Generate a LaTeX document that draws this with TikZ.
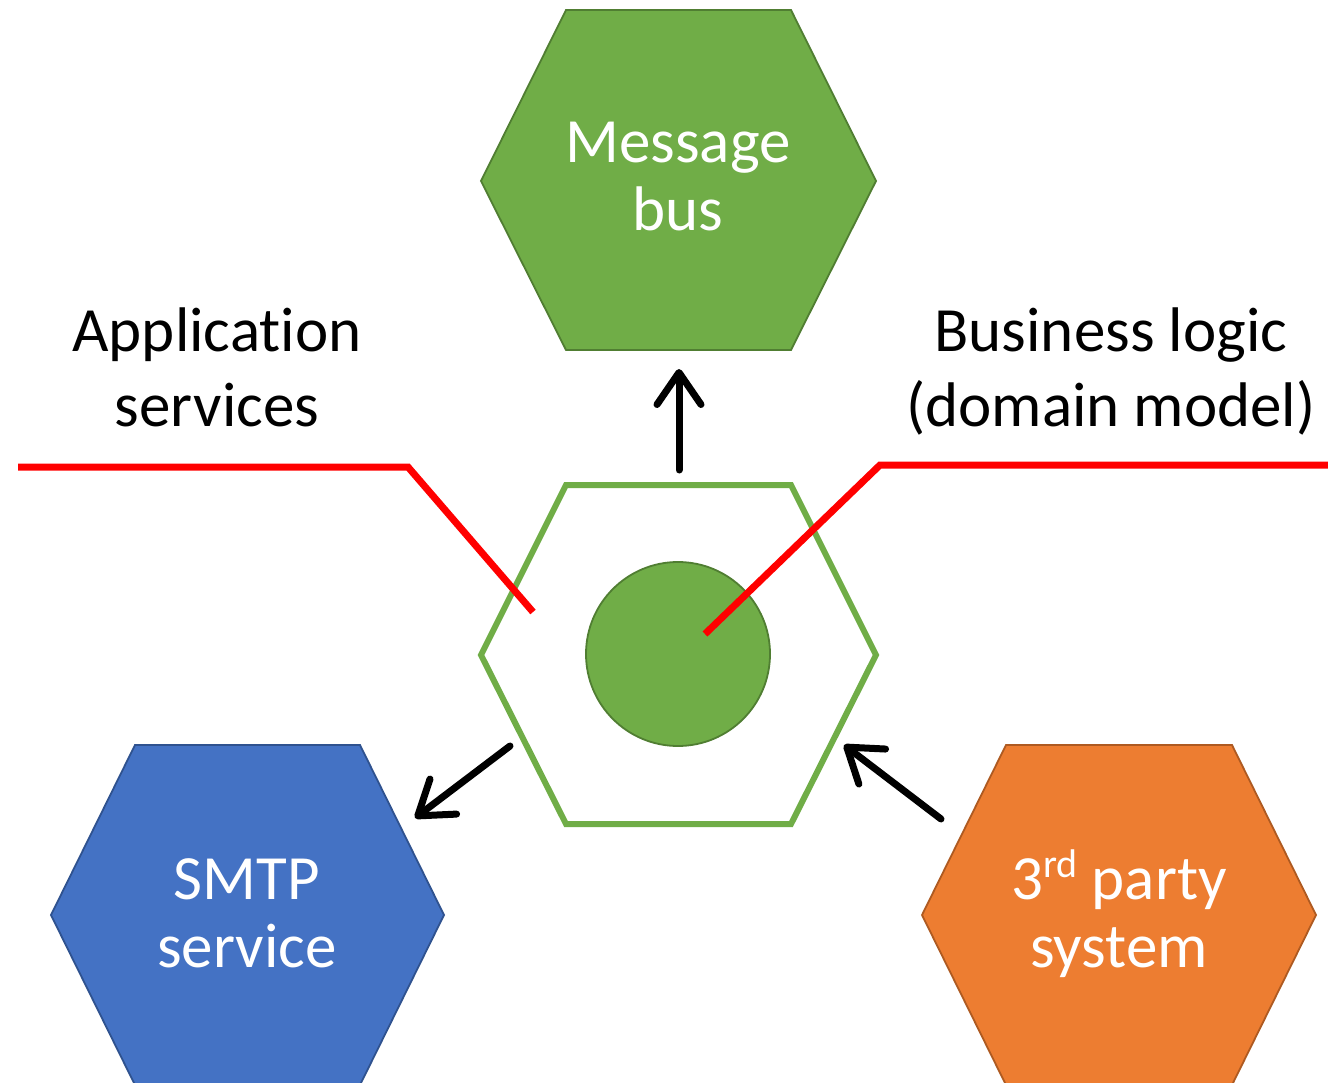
\documentclass[tikz,border=0pt]{standalone}
\usepackage{fontspec}
\setmainfont{Carlito}[Ligatures=NoCommon]
\usetikzlibrary{arrows.meta}
\definecolor{gfill}{HTML}{70AD47}
\definecolor{gline}{HTML}{507E32}
\definecolor{bfill}{HTML}{4472C4}
\definecolor{bline}{HTML}{2F528F}
\definecolor{ofill}{HTML}{ED7D31}
\definecolor{oline}{HTML}{AE5A21}
\definecolor{redl}{HTML}{FF0000}
\tikzset{
  hexgreen/.style={fill=gfill,draw=gline,line width=1.8pt},
  hexblue/.style={fill=bfill,draw=bline,line width=1.8pt},
  hexorange/.style={fill=ofill,draw=oline,line width=1.8pt},
  hexcore/.style={draw=gfill,line width=6pt,fill=white},
  intext/.style={text=white,align=center,font=\fontsize{63}{68}\selectfont,inner sep=0pt},
  outtext/.style={text=black,align=center,font=\fontsize{63}{75}\selectfont,inner sep=0pt},
  redline/.style={draw=redl,line width=7pt},
  arr/.style={draw=black,line width=7pt,line cap=round,
    -{Straight Barb[length=32pt,width=44pt,line join=round,line cap=round]}}
}
\begin{document}
\begin{tikzpicture}[x=1pt,y=-1pt]
\useasboundingbox (0,0) rectangle (1328,1083);
\clip (0,0) rectangle (1328,1083);
% hexagons
\draw[hexgreen] (481,181) -- (566,10) -- (791,10) -- (876,181) -- (791,350) -- (566,350) -- cycle;
\draw[hexcore] (481,655) -- (566,485) -- (791,485) -- (876,655) -- (791,824) -- (566,824) -- cycle;
\draw[hexblue] (51,915) -- (135,745) -- (360,745) -- (444,915) -- (360,1085) -- (135,1085) -- cycle;
\draw[hexorange] (922,915) -- (1006,745) -- (1232,745) -- (1316,915) -- (1232,1085) -- (1006,1085) -- cycle;
% domain circle
\node[circle,fill=gfill,draw=gline,line width=1.8pt,minimum size=184pt,inner sep=0pt] (domain) at (678,654) {};
% texts (base anchor = baseline of last line)
\node[intext,anchor=base] (bus) at (678,231) {Message\\bus};
\node[intext,anchor=base] (smtp) at (247,967) {SMTP\\service};
\node[intext,anchor=base] (third) at (1119,967) {3\raisebox{22pt}{\fontsize{40}{40}\selectfont rd} party\\system};
\node[outtext,anchor=base] (app) at (217,426) {Application\\services};
\node[outtext,anchor=base] (biz) at (1111,426) {Business logic\\(domain model)};
% red lines
\coordinate (appL) at (18,467);
\coordinate (appK) at (408,467);
\coordinate (appE) at (533,612);
\coordinate (bizE) at (705,634);
\coordinate (bizK) at (880,465);
\coordinate (bizR) at (1328,465);
\draw[redline] (appL) -- (appK) -- (appE);
\draw[redline] (bizE) -- (bizK) -- (bizR);
% arrows
\coordinate (coreT) at (679,470);
\coordinate (busB) at (679,369);
\coordinate (coreL) at (510,746);
\coordinate (smtpT) at (415,818);
\coordinate (thirdT) at (941,819);
\coordinate (coreR) at (844,745);
\draw[arr] (coreT) -- (busB);
\draw[arr] (coreL) -- (smtpT);
\draw[arr] (thirdT) -- (coreR);
\end{tikzpicture}
\end{document}
